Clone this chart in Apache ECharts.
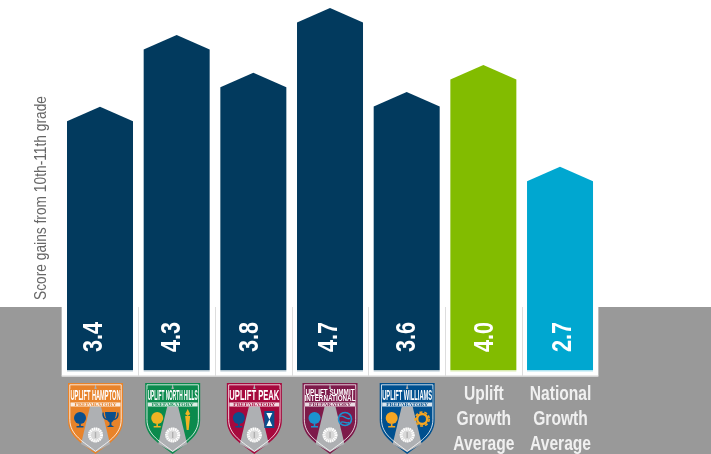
<!DOCTYPE html>
<html>
<head>
<meta charset="utf-8">
<style>
  html, body { margin: 0; padding: 0; background: #fff; }
  #chart { width: 711px; height: 454px; }
</style>
</head>
<body>
<div id="chart"></div>
<script src="https://cdn.jsdelivr.net/npm/echarts@6/dist/echarts.min.js"></script>
<script>
const categories = ['Uplift Hampton', 'Uplift North Hills', 'Uplift Peak', 'Uplift Summit International', 'Uplift Williams', 'Uplift Growth Average', 'National Growth Average']
// printed on the bars
const scoreLabels = ['3.4', '4.3', '3.8', '4.7', '3.6', '4.0', '2.7']
// height of each drawn bar (the bars are not quite to scale with the printed scores)
const barHeights = [3.42, 4.35, 3.86, 4.70, 3.61, 3.96, 2.64]
const axisTitle = 'Score gains from 10th-11th grade'

const FONT = '"Liberation Sans", Arial, sans-serif'
const NAVY = '#023a5e'
const barColors = [NAVY, NAVY, NAVY, NAVY, NAVY, '#82bc00', '#00a7d0']

// crests under the school bars
const crests = [
  { nudge: -4.5, color: '#e8832a', icon: '#0b4f8c', lines: ['UPLIFT HAMPTON'], kind: 'trophy' },
  { nudge: -4, color: '#0b8a4d', icon: '#f0b323', lines: ['UPLIFT NORTH HILLS'], kind: 'torch' },
  { nudge: 1, color: '#a6093d', icon: '#0b4f8c', lines: ['UPLIFT PEAK'], kind: 'hourglass' },
  { nudge: 0, color: '#7d1a4a', icon: '#1c93d0', lines: ['UPLIFT SUMMIT', 'INTERNATIONAL'], kind: 'globe' },
  { nudge: 0.5, color: '#00508f', icon: '#f5a623', lines: ['UPLIFT WILLIAMS'], kind: 'ring' }
]

// no condensed face is installed, so squeeze the text to the width it has in the picture
const measure = document.createElement('canvas').getContext('2d')
function fitText (text, font, width, x, y, fill, rotation) {
  measure.font = font
  return {
    type: 'text',
    x: x,
    y: y,
    rotation: rotation || 0,
    scaleX: width / measure.measureText(text).width,
    style: { text: text, font: font, fill: fill, textAlign: 'center', textVerticalAlign: 'middle' }
  }
}

function crestIcon (kind, x, y, color) {
  if (kind === 'trophy') {
    return [
      { type: 'path', shape: { pathData: 'M-6,-5 L6,-5 C6,0 3,2 1,3 L1,5 L4,6.5 L-4,6.5 L-1,5 L-1,3 C-3,2 -6,0 -6,-5 Z', layout: 'cover', x: x - 5.5, y: y - 7, width: 11, height: 15 }, style: { fill: color } },
      { type: 'path', shape: { pathData: 'M-7,-5 C-8,0 -4,1 -3,1 M7,-5 C8,0 4,1 3,1', layout: 'cover', x: x - 7.5, y: y - 6.5, width: 15, height: 7 }, style: { fill: 'none', stroke: color, lineWidth: 1.3 } }
    ]
  }
  if (kind === 'torch') {
    return [
      { type: 'polygon', shape: { points: [[x - 2.5, y - 3], [x + 2.5, y - 3], [x + 1, y + 11], [x - 1, y + 11]] }, style: { fill: color } },
      { type: 'polygon', shape: { points: [[x, y - 10], [x + 2.5, y - 5], [x, y - 3], [x - 2.5, y - 5]] }, style: { fill: color } }
    ]
  }
  if (kind === 'hourglass') {
    return [
      { type: 'rect', shape: { x: x - 5, y: y - 8, width: 10, height: 17 }, style: { fill: color } },
      { type: 'polygon', shape: { points: [[x - 3, y - 6], [x + 3, y - 6], [x - 3, y + 7], [x + 3, y + 7]] }, style: { fill: '#fff' } }
    ]
  }
  if (kind === 'globe') {
    return [
      { type: 'circle', shape: { cx: x, cy: y, r: 6.5 }, style: { fill: 'none', stroke: color, lineWidth: 1.6 } },
      { type: 'path', shape: { pathData: 'M-5,-3 C-1,-5 2,1 6,-1 M-4,3 C-1,1 2,5 5,3', layout: 'cover', x: x - 5, y: y - 3, width: 10, height: 7 }, style: { fill: 'none', stroke: color, lineWidth: 1.4 } }
    ]
  }
  if (kind === 'ring') {
    return [
      { type: 'circle', shape: { cx: x, cy: y, r: 5 }, style: { fill: 'none', stroke: color, lineWidth: 2.4 } },
      { type: 'circle', shape: { cx: x, cy: y, r: 7 }, style: { fill: 'none', stroke: color, lineWidth: 1.6, lineDash: [3, 2] } }
    ]
  }
  // globe on a stand, same on every crest
  return [
    { type: 'circle', shape: { cx: x, cy: y - 1, r: 6 }, style: { fill: color } },
    { type: 'rect', shape: { x: x - 0.8, y: y + 5, width: 1.6, height: 2.5 }, style: { fill: color } },
    { type: 'rect', shape: { x: x - 3.5, y: y + 7, width: 7, height: 1.5 }, style: { fill: color } }
  ]
}

const SHIELD = 'M0,0 L100,0 L100,52 C100,76 72,86 50,100 C28,86 0,76 0,52 Z'

function buildCrest (c, cx) {
  const top = 383
  const x0 = cx - 27.5
  const els = [
    { type: 'path', shape: { pathData: SHIELD, layout: 'cover', x: x0, y: top, width: 55, height: 71 }, style: { fill: c.color } },
    { type: 'polygon', shape: { points: [[cx, top + 1], [cx + 14.5, top + 61], [cx, top + 69], [cx - 14.5, top + 61]] }, style: { fill: '#aeb0b3' } },
    { type: 'path', shape: { pathData: SHIELD, layout: 'cover', x: x0 + 1.8, y: top + 1.8, width: 51.4, height: 66.6 }, style: { fill: 'none', stroke: '#fff', lineWidth: 0.8 } },
    { type: 'rect', shape: { x: x0 + 2.2, y: top + 6, width: 50.6, height: 17.5 }, style: { fill: c.color } }
  ]
  if (c.lines.length === 1) {
    els.push(fitText(c.lines[0], 'bold 14px ' + FONT, 50, cx, top + 13, '#fff'))
  } else {
    els.push(fitText(c.lines[0], 'bold 9px ' + FONT, 49, cx, top + 9.5, '#fff'))
    els.push(fitText(c.lines[1], 'bold 9px ' + FONT, 51, cx, top + 16, '#fff'))
  }
  els.push({ type: 'rect', shape: { x: x0 + 2.5, y: top + 19.5, width: 50, height: 4 }, style: { fill: '#fff', opacity: 0.85 } })
  els.push(fitText('PREPARATORY', 'bold 5px "Liberation Serif", serif', 42, cx, top + 21.6, c.color))
  // seal
  els.push({ type: 'circle', shape: { cx: cx, cy: top + 52, r: 7.5 }, style: { fill: '#d8d8d8' } })
  els.push({ type: 'circle', shape: { cx: cx, cy: top + 52, r: 6 }, style: { fill: 'none', stroke: '#ffffff', lineWidth: 3, lineDash: [1.2, 0.8] } })
  els.push({ type: 'rect', shape: { x: cx - 0.7, y: top + 49, width: 1.4, height: 6 }, style: { fill: '#b0b0b0' } })
  return els.concat(crestIcon('plain', cx - 15.5, top + 36, c.icon), crestIcon(c.kind, cx + 15, top + 36, c.icon))
}

const bandLeft = 61.67
const bandWidth = 76.67
const graphics = [
  { type: 'rect', z: -10, shape: { x: 0, y: 307, width: 711, height: 147 }, style: { fill: '#999999' } },
  { type: 'rect', z: -9, shape: { x: bandLeft, y: 307, width: bandWidth * 7, height: 69 }, style: { fill: '#ffffff' } },
  { type: 'rect', z: -9, shape: { x: bandLeft, y: 375.5, width: bandWidth * 7, height: 1.5 }, style: { fill: '#d4d4d4' } },
  fitText(axisTitle, '17px ' + FONT, 204, 41, 198, '#666666', Math.PI / 2)
]
for (let i = 1; i < categories.length; i++) {
  const x = Math.round(bandLeft + bandWidth * i) + 0.5
  graphics.push({ type: 'line', z: -8, shape: { x1: x, y1: 307, x2: x, y2: 376 }, style: { stroke: '#dddddd', lineWidth: 1 } })
}

const chart = echarts.init(document.getElementById('chart'), null, { renderer: 'canvas' })
chart.setOption({
  animation: false,
  backgroundColor: '#ffffff',
  grid: { left: bandLeft, width: bandWidth * 7, top: 0.4, height: 369.6 },
  graphic: graphics,
  xAxis: {
    type: 'category',
    data: categories,
    axisLine: { show: false },
    axisTick: { show: false },
    axisLabel: { show: false }
  },
  yAxis: { type: 'value', min: 0, max: 4.8, show: false },
  series: [{
    type: 'custom',
    data: barHeights.map((v, i) => [i, v]),
    encode: { x: 0, y: 1 },
    renderItem (params, api) {
      const i = params.dataIndex
      const top = api.coord([i, api.value(1)])
      const base = api.coord([i, 0])
      const half = 33
      const cx = top[0]
      const children = [
        {
          type: 'polygon',
          shape: { points: [[cx - half, base[1]], [cx - half, top[1] + 14.5], [cx, top[1]], [cx + half, top[1] + 14.5], [cx + half, base[1]]] },
          style: { fill: barColors[i] }
        },
        { type: 'rect', shape: { x: cx - half, y: base[1], width: half * 2, height: 1.5 }, style: { fill: barColors[i], opacity: 0.3 } },
        // the printed scores sit left of centre, less so towards the right of the chart
        fitText(scoreLabels[i], 'bold 27px ' + FONT, 30, cx - 5.8 + 1.63 * i, 337, '#fff', Math.PI / 2)
      ]
      // the last two categories name themselves under the bar, the schools have a crest
      if (i >= crests.length) {
        const words = categories[i].split(' ')
        words.forEach((w, k) => {
          measure.font = 'bold 20px ' + FONT
          children.push(fitText(w, 'bold 20px ' + FONT, measure.measureText(w).width * 0.78, cx + 0.5, 394 + k * 25, '#f0f0f0'))
        })
      }
      return { type: 'group', children: children }
    }
  }, {
    type: 'custom',
    data: crests.map((c, i) => [i, 0]),
    encode: { x: 0, y: 1 },
    clip: false,
    renderItem (params, api) {
      const c = crests[params.dataIndex]
      const cx = api.coord([params.dataIndex, 0])[0] + c.nudge
      return { type: 'group', children: buildCrest(c, cx) }
    }
  }]
})
</script>
</body>
</html>
